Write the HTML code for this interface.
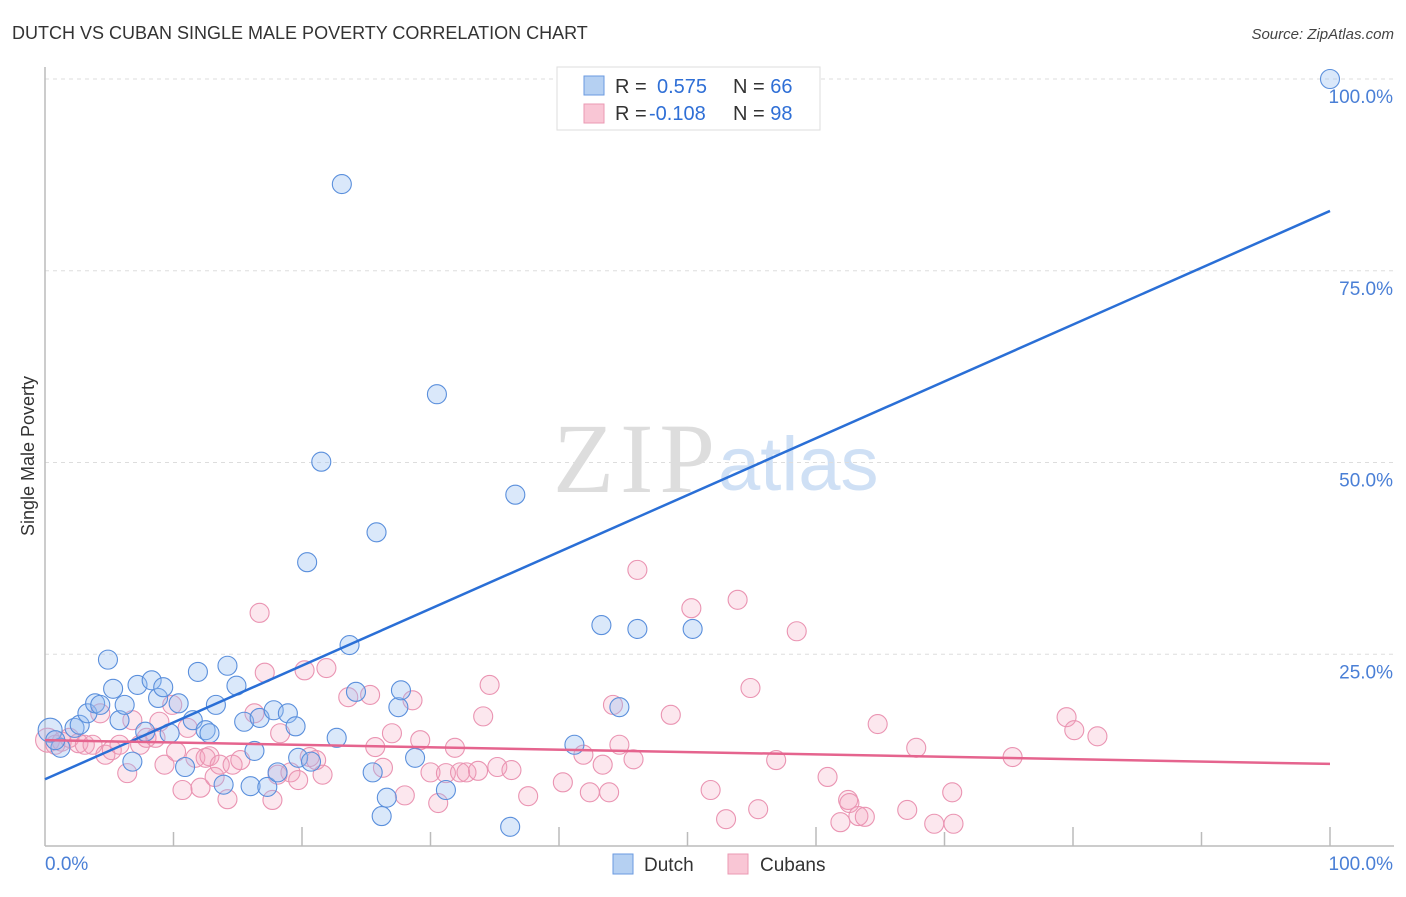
<!DOCTYPE html>
<html><head><meta charset="utf-8"><style>
body{margin:0;background:#fff;font-family:"Liberation Sans",sans-serif;}
svg text{font-family:"Liberation Sans",sans-serif;}
</style></head><body>
<svg id="chart" width="1406" height="892" xmlns="http://www.w3.org/2000/svg">
<text x="12" y="39" font-size="18" fill="#333">DUTCH VS CUBAN SINGLE MALE POVERTY CORRELATION CHART</text>
<text x="1394" y="39" font-size="15" fill="#444" text-anchor="end" font-style="italic">Source: ZipAtlas.com</text>
<g>
<text x="553" y="492" font-size="100" fill="#ddd" textLength="162" style="font-family:'Liberation Serif',serif">ZIP</text>
<text x="718" y="490" font-size="76" fill="#cfe0f5">atlas</text>
</g>
<g id="grid"></g><g id="axes"></g><g id="pts"></g><g id="lines"></g>
<text transform="translate(34,456) rotate(-90)" font-size="18" fill="#333" text-anchor="middle">Single Male Poverty</text>
<g>
<rect x="557" y="67" width="263" height="63" fill="#fff" stroke="#ddd"/>
<rect x="584" y="76" width="20" height="19" fill="#b5d0f2" stroke="#6a9ae0"/>
<rect x="584" y="104" width="20" height="19" fill="#f9c6d5" stroke="#eb99b3"/>
<text x="615" y="93" font-size="20" fill="#333">R = <tspan x="657" fill="#2f6fd6">0.575</tspan><tspan x="733" fill="#333">N = </tspan><tspan fill="#2f6fd6">66</tspan></text>
<text x="615" y="120" font-size="20" fill="#333">R = <tspan x="649" fill="#2f6fd6">-0.108</tspan><tspan x="733" fill="#333">N = </tspan><tspan fill="#2f6fd6">98</tspan></text>
</g>
<g>
<rect x="613" y="854" width="20" height="20" fill="#b5d0f2" stroke="#6a9ae0"/>
<text x="644" y="871" font-size="19" fill="#333">Dutch</text>
<rect x="728" y="854" width="20" height="20" fill="#f9c6d5" stroke="#eb99b3"/>
<text x="760" y="871" font-size="19" fill="#333">Cubans</text>
</g>
</svg>
<script>
const dutchX=[0.4,1.2,0.8,2.3,2.7,3.3,3.9,4.3,4.9,5.3,5.8,6.2,6.8,7.2,7.8,8.3,8.8,9.2,9.7,10.4,10.9,11.5,11.9,12.5,12.8,13.3,13.9,14.2,14.9,15.5,16.0,16.3,16.7,17.3,17.8,18.1,18.9,19.5,19.7,20.4,20.7,21.5,22.7,23.1,23.7,24.2,25.5,25.8,26.2,26.6,27.5,27.7,28.8,30.5,31.2,36.2,36.6,41.2,43.3,44.7,46.1,50.4,40.6,54.6,100];
const dutchY=[15.1,12.8,13.8,15.4,15.8,17.3,18.6,18.4,24.3,20.5,16.4,18.4,11.0,21.0,14.9,21.6,19.3,20.7,14.7,18.6,10.3,16.4,22.7,15.1,14.7,18.4,8.0,23.5,20.9,16.2,7.8,12.4,16.7,7.7,17.7,9.6,17.3,15.6,11.5,37.0,11.0,50.1,14.1,86.3,26.2,20.1,9.6,40.9,3.9,6.3,18.1,20.3,11.5,58.9,7.3,2.5,45.8,13.2,28.8,18.1,28.3,28.3,100,100,100];
const cubanX=[0.2,0.8,1.3,1.9,2.6,3.1,3.7,4.3,4.7,5.2,5.8,6.4,6.8,7.4,7.9,8.6,8.9,9.3,9.9,10.2,10.7,11.1,11.7,12.1,12.5,12.8,13.2,13.6,14.2,14.6,15.2,16.3,16.7,17.1,17.7,18.1,18.3,19.1,19.7,20.2,20.6,21.1,21.6,21.9,23.6,25.3,25.7,26.3,27.0,28.0,28.6,29.2,30.0,30.6,31.2,31.9,32.3,32.8,33.7,34.1,34.6,35.2,36.3,37.6,40.3,41.9,42.4,43.4,43.9,44.2,44.7,45.8,46.1,48.7,50.3,51.8,53.0,53.9,54.9,55.5,56.9,58.5,60.9,61.9,62.5,62.6,63.3,63.8,64.8,67.1,67.8,69.2,70.7,70.6,75.3,79.5,80.1,81.9];
const cubanY=[13.8,13.2,13.6,14.1,13.4,13.2,13.2,17.3,11.9,12.5,13.2,9.5,16.4,13.2,14.1,14.1,16.2,10.6,18.4,12.3,7.3,15.4,11.5,7.6,11.5,11.7,9.0,10.6,6.1,10.6,11.2,17.3,30.4,22.6,6.0,9.3,14.7,9.6,8.6,22.9,11.6,11.2,9.3,23.2,19.4,19.7,12.9,10.2,14.7,6.6,19.0,13.8,9.6,5.6,9.5,12.8,9.6,9.6,9.8,16.9,21.0,10.3,9.9,6.5,8.3,11.9,7.0,10.6,7.0,18.4,13.2,11.3,36.0,17.1,31.0,7.3,3.5,32.1,20.6,4.8,11.2,28.0,9.0,3.1,6.0,5.6,3.9,3.8,15.9,4.7,12.8,2.9,2.9,7.0,11.6,16.8,15.1,14.3];
const dutchTrend=[8.7,82.8];   // y at x=0 and x=100
const cubanTrend=[13.8,10.7];
const yTicks=[25,50,75,100];
const yTickLabels=["25.0%","50.0%","75.0%","100.0%"];

const NS="http://www.w3.org/2000/svg";
const sx=v=>45+v*12.85, sy=v=>846-v*7.67;
function mk(tag,attrs,parent){const e=document.createElementNS(NS,tag);for(const k in attrs)e.setAttribute(k,attrs[k]);document.getElementById(parent).appendChild(e);return e;}
yTicks.forEach((t,i)=>{
  const g=mk('line',{x1:45,x2:1394,y1:sy(t),y2:sy(t),stroke:'#ddd','stroke-dasharray':'4,4'},'grid');
  
  
  const tx=mk('text',{x:1393,y:sy(t)+24,'font-size':19,fill:'#4a7fd6','text-anchor':'end'},'axes');
  tx.textContent=yTickLabels[i];
  
  
});
const ax=mk('line',{x1:45,x2:1394,y1:846,y2:846,stroke:'#bbb','stroke-width':1.5},'axes');


const ay=mk('line',{x1:45,x2:45,y1:67,y2:846,stroke:'#bbb','stroke-width':1.5},'axes');


for(let i=1;i<=10;i++){
  const tk=mk('line',{x1:sx(i*10),x2:sx(i*10),y1:i%2?832:827,y2:846,stroke:'#bbb','stroke-width':1.5},'axes');
  
  
}
const l0=mk('text',{x:45,y:870,'font-size':19,fill:'#4a7fd6'},'axes');l0.textContent='0.0%';


const l1=mk('text',{x:1393,y:870,'font-size':19,fill:'#4a7fd6','text-anchor':'end'},'axes');l1.textContent='100.0%';


cubanX.forEach((x,i)=>{
  const c=mk('circle',{cx:sx(x),cy:sy(cubanY[i]),r:i==0?12:9.5,fill:'rgba(244,160,188,0.25)',stroke:'#ea94b2','stroke-width':1.1},'pts');
  
  
});
dutchX.forEach((x,i)=>{
  const c=mk('circle',{cx:sx(x),cy:sy(dutchY[i]),r:i==0?12:9.5,fill:'rgba(150,190,240,0.35)',stroke:'#5a8fdc','stroke-width':1.1},'pts');
  
  
});
const tb=mk('line',{x1:sx(0),y1:sy(dutchTrend[0]),x2:sx(100),y2:sy(dutchTrend[1]),stroke:'#2a6fd6','stroke-width':2.5},'lines');


const tp=mk('line',{x1:sx(0),y1:sy(cubanTrend[0]),x2:sx(100),y2:sy(cubanTrend[1]),stroke:'#e5648e','stroke-width':2.5},'lines');


</script>
</body></html>
